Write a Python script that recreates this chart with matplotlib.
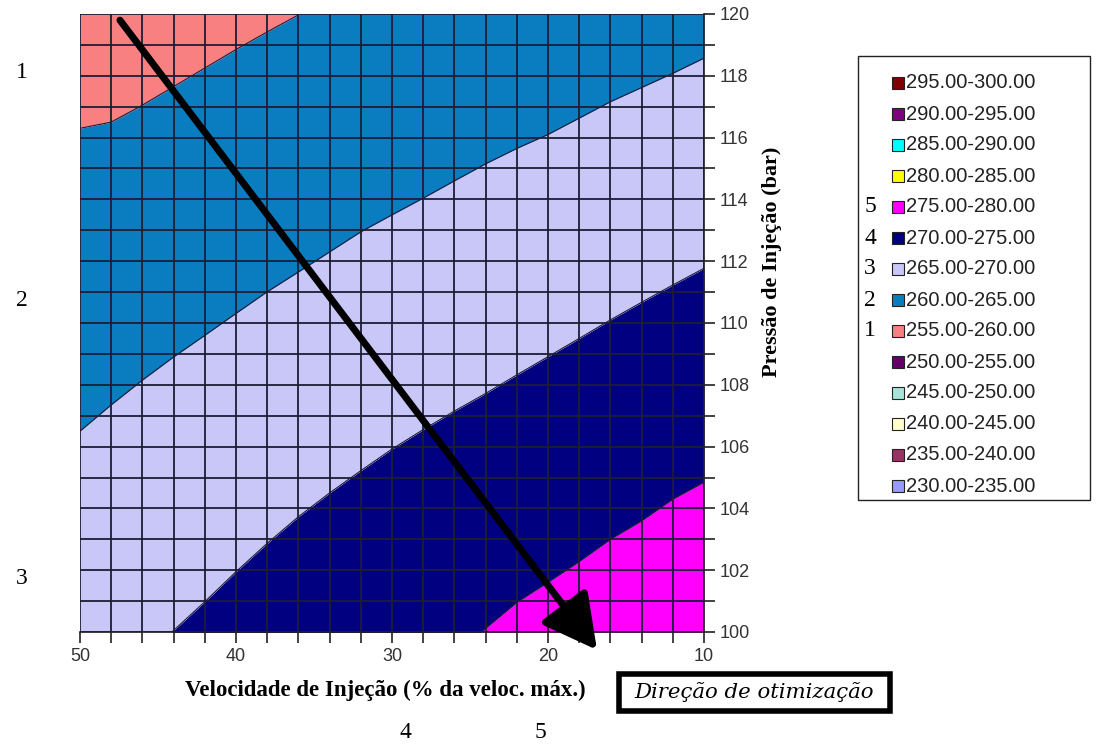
import matplotlib
matplotlib.use("Agg")
import matplotlib.pyplot as plt
import numpy as np
from matplotlib.patches import Rectangle
from matplotlib.ticker import MultipleLocator

# velocidade (% da veloc. max), uma coluna a cada 2 %
veloc = [50, 48, 46, 44, 42, 40, 38, 36, 34, 32, 30, 28, 26, 24, 22, 20, 18, 16, 14, 12, 10]

# pressao (bar) onde cada isolinha cruza as colunas (valores fora de 100-120 ficam escondidos)
iso_255_260 = [116.3, 116.5, 117.05, 117.65, 118.25, 118.85, 119.42, 119.97, 120.55, 121.1, 121.6,
               122.1, 122.6, 123.1, 123.6, 124.1, 124.6, 125.1, 125.6, 126.1, 126.6]
iso_260_265 = [106.5, 107.35, 108.15, 108.9, 109.6, 110.31, 111.01, 111.65, 112.3, 112.95, 113.5,
               114.04, 114.6, 115.15, 115.65, 116.1, 116.63, 117.16, 117.62, 118.08, 118.57]
iso_265_270 = [97.1, 98.1, 99.1, 100.05, 100.98, 101.95, 102.87, 103.73, 104.5, 105.22, 105.92,
               106.55, 107.15, 107.72, 108.32, 108.91, 109.5, 110.1, 110.67, 111.23, 111.77]
iso_270_275 = [88.6, 89.5, 90.4, 91.3, 92.2, 93.1, 94.0, 94.9, 95.8, 96.7, 97.6,
               98.45, 99.26, 100.12, 100.96, 101.61, 102.28, 103.0, 103.6, 104.3, 104.85]

# faixas da legenda
faixas = ['295.00-300.00', '290.00-295.00', '285.00-290.00', '280.00-285.00', '275.00-280.00',
          '270.00-275.00', '265.00-270.00', '260.00-265.00', '255.00-260.00', '250.00-255.00',
          '245.00-250.00', '240.00-245.00', '235.00-240.00', '230.00-235.00']
cores = ['#800000', '#800080', '#00FFFF', '#FFFF00', '#FF00FF',
         '#000080', '#C9C7F7', '#0A7DC1', '#F88080', '#660066',
         '#A6E3DA', '#FFFFCC', '#993366', '#9999FF']
marcas = ['', '', '', '', '5', '4', '3', '2', '1', '', '', '', '', '']

W, H = 1100, 747
fig = plt.figure(figsize=(W / 100, H / 100), dpi=100)
ax = fig.add_axes([80 / W, 1 - 632 / H, 624 / W, 618 / H])

cor = dict(zip(faixas, cores))
ax.fill_between(veloc, 95, iso_270_275, color=cor['275.00-280.00'], lw=0)
ax.fill_between(veloc, iso_270_275, iso_265_270, color=cor['270.00-275.00'], lw=0)
ax.fill_between(veloc, iso_265_270, iso_260_265, color=cor['265.00-270.00'], lw=0)
ax.fill_between(veloc, iso_260_265, iso_255_260, color=cor['260.00-265.00'], lw=0)
ax.fill_between(veloc, iso_255_260, 125, color=cor['255.00-260.00'], lw=0)
for iso in (iso_255_260, iso_260_265, iso_265_270, iso_270_275):
    ax.plot(veloc, iso, color='#1a1a3a', lw=0.8, zorder=2)

ax.set_xlim(50, 10)
ax.set_ylim(100, 120)
ax.xaxis.set_major_locator(MultipleLocator(10))
ax.xaxis.set_minor_locator(MultipleLocator(2))
ax.yaxis.set_major_locator(MultipleLocator(2))
ax.yaxis.set_minor_locator(MultipleLocator(1))
ax.yaxis.tick_right()
ax.grid(which='both', color='#1d1d35', lw=1.3, zorder=3)
ax.set_axisbelow(False)
for s in ('left', 'top'):
    ax.spines[s].set_visible(False)
for s in ('right', 'bottom'):
    ax.spines[s].set_color('#222222')
    ax.spines[s].set_linewidth(1.2)
ax.tick_params(which='both', direction='out', length=8, width=1.2, color='#222222',
               labelsize=13, labelcolor='#333333')
for lab in ax.get_xticklabels() + ax.get_yticklabels():
    lab.set_family('Liberation Sans')

fig.text(385 / W, 1 - 690 / H, 'Velocidade de Injeção (% da veloc. máx.)', ha='center', va='center',
         family='Liberation Serif', weight='bold', fontsize=16.5)
fig.text(772 / W, 1 - 262 / H, 'Pressão de Injeção (bar)', ha='center', va='center', rotation=90,
         family='Liberation Serif', weight='bold', fontsize=16)

# seta de otimizacao
ax.annotate('', xy=(16.86, 99.42), xytext=(47.44, 119.8), annotation_clip=False,
            arrowprops=dict(arrowstyle='-|>,head_length=0.6,head_width=0.32', mutation_scale=55,
                            lw=5, color='black', shrinkA=0, shrinkB=0), zorder=5)

fig.patches.append(Rectangle((619 / W, 1 - 711 / H), 271 / W, 37 / H, transform=fig.transFigure,
                             fill=False, ec='black', lw=4))
fig.text(754 / W, 1 - 692 / H, 'Direção de otimização', ha='center', va='center',
         family='DejaVu Serif', style='italic', fontsize=15.3)

# numeros laterais
for txt, px, py in [('1', 22, 72), ('2', 22, 300), ('3', 22, 578), ('4', 405, 732), ('5', 540, 732)]:
    fig.text(px / W, 1 - py / H, txt, ha='center', va='center', family='Liberation Serif', fontsize=17)

# legenda
fig.patches.append(Rectangle((858 / W, 1 - 500 / H), 232 / W, 444 / H, transform=fig.transFigure,
                             fill=False, ec='#222222', lw=1))
for i, (fx, c, m) in enumerate(zip(faixas, cores, marcas)):
    yc = 83 + i * 31
    fig.patches.append(Rectangle((892 / W, 1 - (yc + 6) / H), 12 / W, 12 / H,
                                 transform=fig.transFigure, fc=c, ec='#222222', lw=0.8))
    fig.text(906 / W, 1 - yc / H, fx, ha='left', va='center', family='Liberation Sans',
             fontsize=14.5, color='#222222')
    if m:
        fig.text(870 / W, 1 - yc / H, m, ha='center', va='center', family='Liberation Serif',
                 fontsize=17)

fig.savefig('out.png', dpi=100)
